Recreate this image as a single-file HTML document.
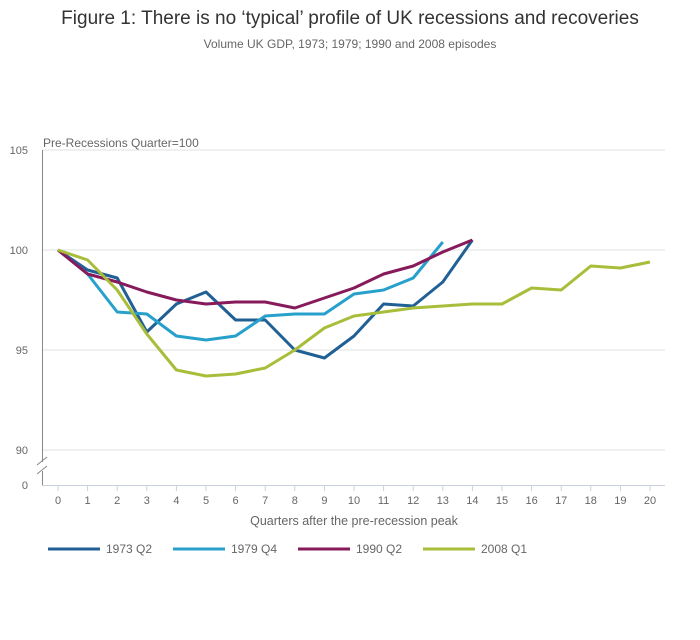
<!DOCTYPE html>
<html><head><meta charset="utf-8"><style>
body{margin:0;background:#fff;font-family:"Liberation Sans",sans-serif}
svg text{font-family:"Liberation Sans",sans-serif}
</style></head><body>
<svg id="c" width="700" height="635" xmlns="http://www.w3.org/2000/svg">
<text x="350" y="24" text-anchor="middle" font-size="19" fill="#333">Figure 1: There is no ‘typical’ profile of UK recessions and recoveries</text>
<text x="350" y="48" text-anchor="middle" font-size="12" fill="#666">Volume UK GDP, 1973; 1979; 1990 and 2008 episodes</text>
<text x="43" y="147" font-size="12" fill="#666">Pre-Recessions Quarter=100</text>
<text x="354" y="525" text-anchor="middle" font-size="12.5" fill="#666">Quarters after the pre-recession peak</text>
<g id="grid"></g><g id="axes"></g><g id="lines"></g><g id="legend"></g>
</svg>
<script>
const quarters=[0,1,2,3,4,5,6,7,8,9,10,11,12,13,14,15,16,17,18,19,20];
const yTicks=[90,95,100,105];
const s1973=[100,99.0,98.6,95.9,97.3,97.9,96.5,96.5,95.0,94.6,95.7,97.3,97.2,98.4,100.5];
const s1979=[100,98.8,96.9,96.8,95.7,95.5,95.7,96.7,96.8,96.8,97.8,98.0,98.6,100.4];
const s1990=[100,98.8,98.4,97.9,97.5,97.3,97.4,97.4,97.1,97.6,98.1,98.8,99.2,99.9,100.5];
const s2008=[100,99.5,98.0,95.8,94.0,93.7,93.8,94.1,95.0,96.1,96.7,96.9,97.1,97.2,97.3,97.3,98.1,98.0,99.2,99.1,99.4];
const seriesNames=["1973 Q2","1979 Q4","1990 Q2","2008 Q1"];
const seriesData=[s1973,s1979,s1990,s2008];
const colors=["#206095","#27a0cc","#871a5b","#a8bd3a"];
const NS="http://www.w3.org/2000/svg";
const X=q=>58+q*29.6;
const Y=v=>250-(v-100)*20;
function mk(tag,attrs,parent,txt){const e=document.createElementNS(NS,tag);for(const k in attrs)e.setAttribute(k,attrs[k]);if(txt!==undefined)e.textContent=txt;parent.appendChild(e);return e;}
const grid=document.getElementById('grid'),axes=document.getElementById('axes'),lines=document.getElementById('lines'),legend=document.getElementById('legend');
yTicks.forEach(t=>{
 const l=mk('line',{x1:42,x2:665,y1:Y(t),y2:Y(t),stroke:'#e0e0e0','stroke-width':1},grid);
 
 
 const tx=mk('text',{x:28,y:Y(t)+4,'text-anchor':'end','font-size':11,fill:'#666'},grid,String(t));
 
 
});
const z=mk('text',{x:28,y:489,'text-anchor':'end','font-size':11,fill:'#666'},axes,'0');


const ya=mk('path',{d:'M42.5 150 V462 M42.5 471 V485',stroke:'#888','stroke-width':1,fill:'none'},axes);


const br=mk('path',{d:'M37 465 L47 457 M37 474 L47 466',stroke:'#888','stroke-width':1,fill:'none'},axes);


const xa=mk('line',{x1:42,x2:665,y1:485.5,y2:485.5,stroke:'#c8d0e0','stroke-width':1},axes);


quarters.forEach(q=>{
 const tk=mk('line',{x1:X(q),x2:X(q),y1:485,y2:491,stroke:'#c8d0e0'},axes);
 
 
 const tx=mk('text',{x:X(q),y:504,'text-anchor':'middle','font-size':11,fill:'#666'},axes,String(q));
 
 
});
seriesData.forEach((d,i)=>{
 const p=mk('polyline',{points:d.map((v,q)=>X(quarters[q])+','+Y(v)).join(' '),fill:'none',stroke:colors[i],'stroke-width':3,'stroke-linejoin':'round'},lines);
 
 
});
const lx=[48,173,298,423];
seriesNames.forEach((n,i)=>{
 const g=mk('g',{},legend);
 
 
 mk('line',{x1:lx[i],x2:lx[i]+52,y1:549,y2:549,stroke:colors[i],'stroke-width':3},g);
 mk('text',{x:lx[i]+58,y:553,'font-size':12,fill:'#666'},g,n);
});
</script>
</body></html>
